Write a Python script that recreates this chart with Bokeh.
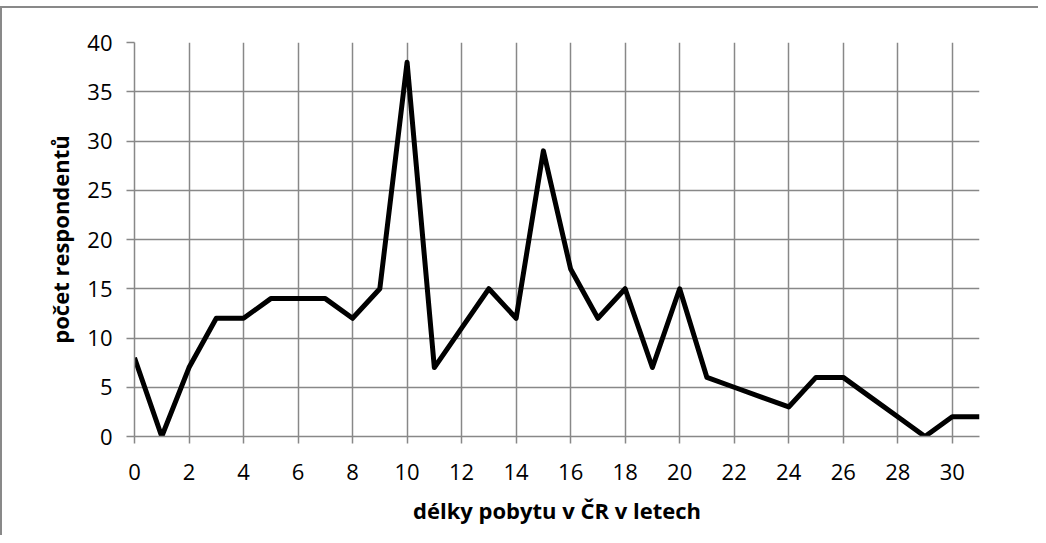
from bokeh.plotting import figure
from bokeh.models import FixedTicker, ColumnDataSource
from bokeh.embed import file_html
from bokeh.resources import INLINE

years = list(range(0, 32))
respondents = [8, 0, 7, 12, 12, 14, 14, 14, 12, 15, 38, 7, 11, 15, 12, 29,
               17, 12, 15, 7, 15, 6, 5, 4, 3, 6, 6, 4, 2, 0, 2, 2]
x_ticks = list(range(0, 31, 2))
y_ticks = list(range(0, 41, 5))
x_label = "délky pobytu v ČR v letech"
y_label = "počet respondentů"

src = ColumnDataSource(dict(x=years, y=respondents))

GRID = "#888888"
FONT = "Open Sans"

p = figure(width=1038, height=529, output_backend="svg", toolbar_location=None,
           x_range=(0, 31), y_range=(0, 40),
           min_border_left=132, min_border_right=61, min_border_top=34, min_border_bottom=101)
p.outline_line_color = None
p.background_fill_color = "white"
p.border_fill_color = "white"
# outer chart border (top and left edges visible, rest beyond the window)
p.styles = {"position": "relative", "top": "6px",
            "border-top": "2px solid #898989", "border-left": "2px solid #898989"}

p.line("x", "y", source=src, line_color="black", line_width=5, line_join="round")

p.xaxis.ticker = FixedTicker(ticks=x_ticks)
p.yaxis.ticker = FixedTicker(ticks=y_ticks)
p.xaxis.minor_tick_line_color = None
p.yaxis.minor_tick_line_color = None
for ax in (p.xaxis, p.yaxis):
    ax.axis_line_color = GRID
    ax.axis_line_width = 1.5
    ax.major_tick_line_color = GRID
    ax.major_tick_line_width = 1.5
    ax.major_tick_in = 0
    ax.major_label_text_font = FONT
    ax.major_label_text_font_size = "22px"
    ax.major_label_text_color = "black"
    ax.axis_label_text_font = FONT
    ax.axis_label_text_font_size = "22px"
    ax.axis_label_text_font_style = "bold"
    ax.axis_label_text_color = "black"
p.xaxis.major_tick_out = 7
p.yaxis.major_tick_out = 8
p.xaxis.major_label_standoff = 20
p.yaxis.major_label_standoff = 14
p.xaxis.axis_label = x_label
p.yaxis.axis_label = y_label
p.xaxis.axis_label_standoff = 12
p.yaxis.axis_label_standoff = 9

p.xgrid.ticker = FixedTicker(ticks=x_ticks)
p.ygrid.ticker = FixedTicker(ticks=y_ticks)
p.xgrid.grid_line_color = GRID
p.ygrid.grid_line_color = GRID
p.xgrid.grid_line_width = 1.5
p.ygrid.grid_line_width = 1.5

open("out.html", "w").write(file_html(p, INLINE))
